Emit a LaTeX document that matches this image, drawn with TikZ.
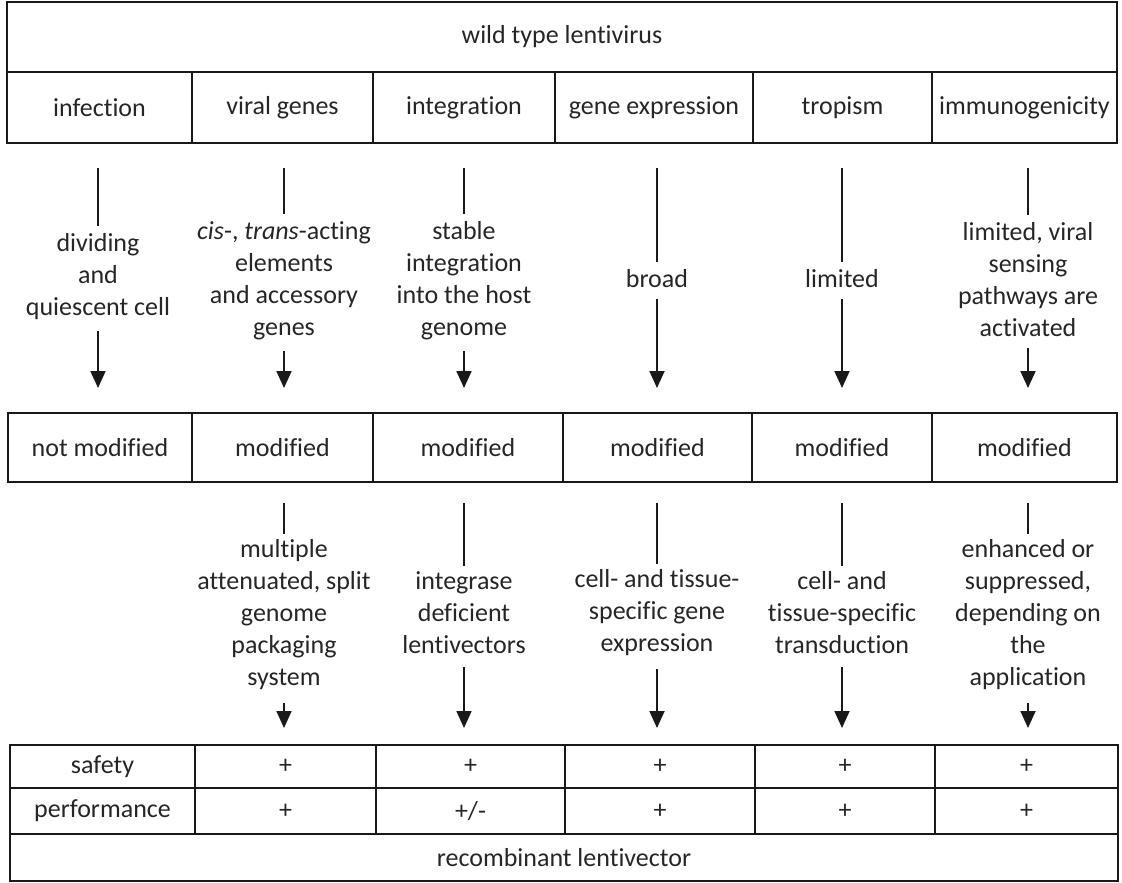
\documentclass[tikz,border=0pt]{standalone}
\usepackage{fontspec}
\setmainfont{Carlito}[Ligatures=NoCommon]
\usetikzlibrary{arrows.meta}
\newcommand\mkcell[6]{\node[cellbox, minimum width={(#4-#2)*1pt}, minimum height={(#5-#3)*1pt}] (#1) at (#2,#3) {#6};}
\begin{document}
\begin{tikzpicture}[x=1pt,y=-1pt,
  cellbox/.style={draw=black!90, line width=1.5pt, inner sep=0pt, outer sep=0pt, anchor=north west,
    font=\fontsize{26}{32}\selectfont, text=black!85},
  txt/.style={align=center, inner sep=0pt, font=\fontsize{26}{32}\selectfont, text=black!85},
  seg/.style={line width=1.8pt, draw=black!90},
  arr/.style={seg, -{Triangle[width=15pt,length=17pt]}}]
\useasboundingbox (0,0) rectangle (1122,883);

% header
\mkcell{wt}{7}{2}{1117}{72}{wild type lentivirus}
\mkcell{h1}{7}{72}{192}{143}{infection}
\mkcell{h2}{192}{72}{373}{143}{viral genes}
\mkcell{h3}{373}{72}{555}{143}{integration}
\mkcell{h4}{555}{72}{753}{143}{gene expression}
\mkcell{h5}{753}{72}{932}{143}{tropism}
\mkcell{h6}{932}{72}{1117}{143}{immunogenicity}

% middle row
\mkcell{m1}{8}{413}{192}{482}{not modified}
\mkcell{m2}{192}{413}{373}{482}{modified}
\mkcell{m3}{373}{413}{563}{482}{modified}
\mkcell{m4}{563}{413}{752}{482}{modified}
\mkcell{m5}{752}{413}{932}{482}{modified}
\mkcell{m6}{932}{413}{1117}{482}{modified}

% bottom table
\mkcell{sl}{10}{745}{195}{788}{safety}
\mkcell{s2}{195}{745}{376}{788}{+}
\mkcell{s3}{376}{745}{565}{788}{+}
\mkcell{s4}{565}{745}{755}{788}{+}
\mkcell{s5}{755}{745}{935}{788}{+}
\mkcell{s6}{935}{745}{1118}{788}{\raisebox{-4pt}{+}}
\mkcell{pl}{10}{788}{195}{834}{performance}
\mkcell{p2}{195}{788}{376}{834}{+}
\mkcell{p3}{376}{788}{565}{834}{+/-}
\mkcell{p4}{565}{788}{755}{834}{+}
\mkcell{p5}{755}{788}{935}{834}{+}
\mkcell{p6}{935}{788}{1118}{834}{\raisebox{-4pt}{+}}
\mkcell{rec}{10}{834}{1118}{881}{recombinant lentivector}

% upper texts
\node[txt] (t1) at (98,277) {dividing\\and\\quiescent cell};
\node[txt] (t2) at (284,281) {\textit{cis}-, \textit{trans}-acting\\elements\\and accessory\\genes};
\node[txt] (t3) at (464,281) {stable\\integration\\into the host\\genome};
\node[txt] (t4) at (657,279) {broad};
\node[txt] (t5) at (842,279) {limited};
\node[txt] (t6) at (1028,280) {limited, viral\\sensing\\pathways are\\activated};

% lower texts
\node[txt] (u2) at (284,615) {multiple\\attenuated, split\\genome\\packaging\\system};
\node[txt] (u3) at (464,613) {integrase\\deficient\\lentivectors};
\node[txt] (u4) at (657,613) {cell- and tissue-\\specific gene\\expression};
\node[txt] (u5) at (842,613) {cell- and\\tissue-specific\\transduction};
\node[txt] (u6) at (1028,615) {enhanced or\\suppressed,\\depending on\\the\\application};

% upper connectors
\foreach \i in {1,...,6}{
  \draw[seg, shorten <=25pt, shorten >=8pt] (h\i.south -| t\i.north) -- (t\i.north);
  \draw[arr, shorten <=11pt, shorten >=25pt] (t\i.south) -- (t\i.south |- m\i.north);
}
% lower connectors
\foreach \i in {2,...,6}{
  \draw[seg, shorten <=21pt, shorten >=6pt] (m\i.south -| u\i.north) -- (u\i.north);
  \draw[arr, shorten <=13pt, shorten >=17pt] (u\i.south) -- (u\i.south |- s\i.north);
}
\end{tikzpicture}
\end{document}
